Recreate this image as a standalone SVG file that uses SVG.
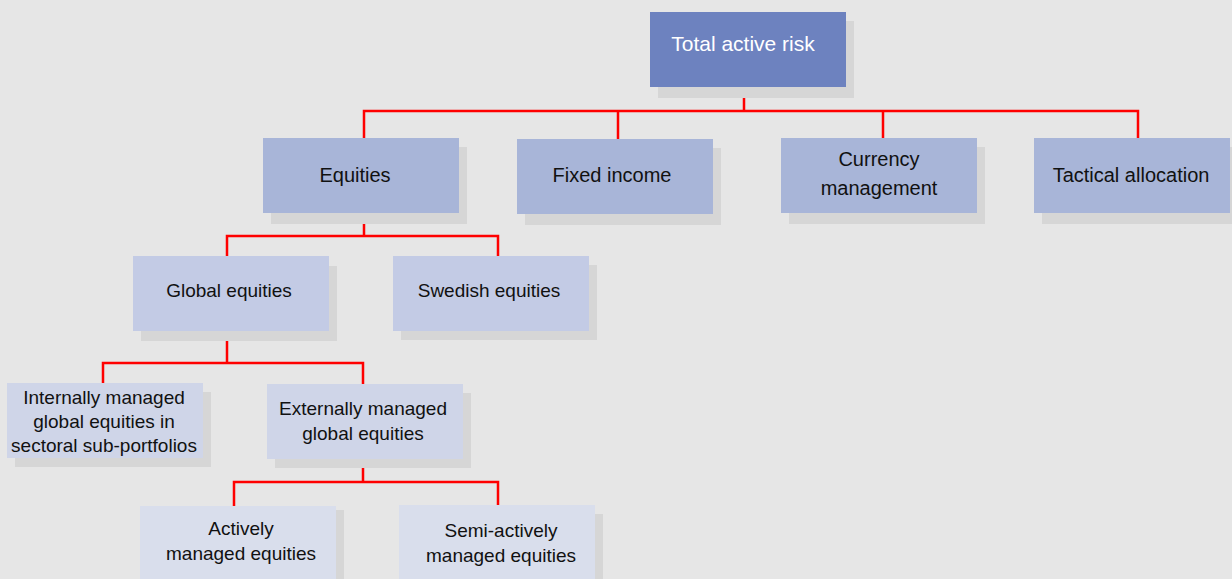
<svg xmlns="http://www.w3.org/2000/svg" width="1232" height="579" viewBox="0 0 1232 579">
<style>
.sh{fill:#d6d6d6}
.l0{fill:#6d82bf}
.l1{fill:#a8b5d8}
.l2{fill:#c3cbe5}
.l3{fill:#cfd5e8}
.l4{fill:#d9deec}
text{font-family:"Liberation Sans",Arial,sans-serif;text-anchor:middle;fill:#111}
.t21{font-size:21px}
.t20{font-size:20px}
.t18{font-size:19px}
.w{fill:#ffffff}
.c{fill:none;stroke:#ff0000;stroke-width:2.5}
</style>
<rect width="1232" height="579" fill="#e6e6e6"/>
<g id="connectors">
<path class="c" d="M744 98V111M364 138V111H1138V138M618 111V139M883 111V138"/>
<path class="c" d="M364 213V236M227 256V236H498V256"/>
<path class="c" d="M227 331V363M103 383V363H363V384"/>
<path class="c" d="M363 459V482M234 506V482H498V505"/>
</g>
<g id="total-active-risk">
<rect class="sh" x="658" y="21" width="196" height="77"/>
<rect class="l0" x="650" y="12" width="196" height="75"/>
<text class="t21 w" x="743" y="51">Total active risk</text>
</g>
<g id="equities">
<rect class="sh" x="271" y="147" width="196" height="77"/>
<rect class="l1" x="263" y="138" width="196" height="75"/>
<text class="t20" x="355" y="182">Equities</text>
</g>
<g id="fixed-income">
<rect class="sh" x="525" y="148" width="196" height="77"/>
<rect class="l1" x="517" y="139" width="196" height="75"/>
<text class="t20" x="612" y="182">Fixed income</text>
</g>
<g id="currency-management">
<rect class="sh" x="789" y="147" width="196" height="77"/>
<rect class="l1" x="781" y="138" width="196" height="75"/>
<text class="t20" x="879" y="166">Currency</text>
<text class="t20" x="879" y="195">management</text>
</g>
<g id="tactical-allocation">
<rect class="sh" x="1042" y="147" width="196" height="77"/>
<rect class="l1" x="1034" y="138" width="196" height="75"/>
<text class="t20" x="1131" y="182">Tactical allocation</text>
</g>
<g id="global-equities">
<rect class="sh" x="141" y="266" width="196" height="75"/>
<rect class="l2" x="133" y="256" width="196" height="75"/>
<text class="t18" x="229" y="297">Global equities</text>
</g>
<g id="swedish-equities">
<rect class="sh" x="401" y="265" width="196" height="75"/>
<rect class="l2" x="393" y="256" width="196" height="75"/>
<text class="t18" x="489" y="297">Swedish equities</text>
</g>
<g id="internally-managed">
<rect class="sh" x="15" y="392" width="196" height="75"/>
<rect class="l3" x="7" y="383" width="196" height="75"/>
<text class="t18" x="104" y="404">Internally managed</text>
<text class="t18" x="104" y="428">global equities in</text>
<text class="t18" x="104" y="452">sectoral sub-portfolios</text>
</g>
<g id="externally-managed">
<rect class="sh" x="275" y="393" width="196" height="75"/>
<rect class="l3" x="267" y="384" width="196" height="75"/>
<text class="t18" x="363" y="415">Externally managed</text>
<text class="t18" x="363" y="440">global equities</text>
</g>
<g id="actively-managed">
<rect class="sh" x="148" y="510" width="196" height="75"/>
<rect class="l4" x="140" y="506" width="196" height="75"/>
<text class="t18" x="241" y="535">Actively</text>
<text class="t18" x="241" y="560">managed equities</text>
</g>
<g id="semi-actively-managed">
<rect class="sh" x="407" y="514" width="196" height="75"/>
<rect class="l4" x="399" y="505" width="196" height="75"/>
<text class="t18" x="501" y="537">Semi-actively</text>
<text class="t18" x="501" y="562">managed equities</text>
</g>
</svg>
